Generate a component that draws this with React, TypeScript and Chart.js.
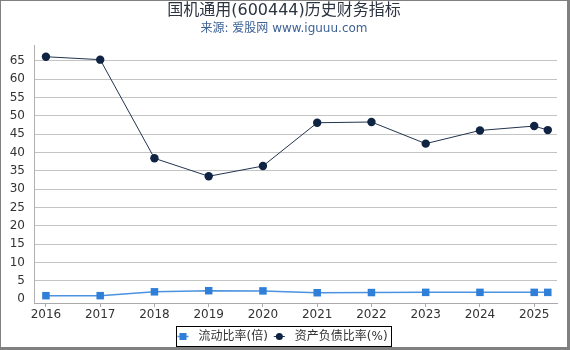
import React, { useEffect, useRef } from 'react';
import { Chart, registerables } from 'chart.js';

Chart.register(...registerables);

const titleText = '国机通用(600444)历史财务指标';
const subtitleText = '来源: 爱股网 www.iguuu.com';
const seriesNames = ['流动比率(倍)', '资产负债比率(%)'];

// x positions (years; last point is the latest quarter)
const periods = [2016, 2017, 2018, 2019, 2020, 2021, 2022, 2023, 2024, 2025, 2025.25];
const currentRatio = [0.95, 0.95, 2.0, 2.3, 2.25, 1.75, 1.8, 1.85, 1.85, 1.85, 1.85];
const debtRatio = [66.1, 65.3, 38.4, 33.5, 36.3, 48.1, 48.3, 42.4, 46.0, 47.2, 46.1];

const xTickValues = [2016, 2017, 2018, 2019, 2020, 2021, 2022, 2023, 2024, 2025];
const yTickValues = [0, 5, 10, 15, 20, 25, 30, 35, 40, 45, 50, 55, 60, 65];

const BLUE = '#2f7ed8';
const BLUE_LINE = '#4b92e0';
const NAVY = '#0f2342';
const NAVY_LINE = '#22344f';
const FONT = '"DejaVu Sans", "Noto Sans CJK SC", sans-serif';

const overlayPlugin = {
  id: 'overlay',
  afterDraw(chart: any) {
    const ctx = chart.ctx as CanvasRenderingContext2D;
    const cx = chart.width / 2;
    ctx.save();
    ctx.textAlign = 'center';
    ctx.textBaseline = 'middle';
    ctx.fillStyle = '#2b3440';
    ctx.font = '16px ' + FONT;
    ctx.fillText(titleText, cx, 10);
    ctx.fillStyle = '#3d6396';
    ctx.font = '12px ' + FONT;
    ctx.fillText(subtitleText, cx, 28);

    // legend
    ctx.font = '12px ' + FONT;
    const w1 = ctx.measureText(seriesNames[0]).width;
    const w2 = ctx.measureText(seriesNames[1]).width;
    const symW = 11;
    const gapSymText = 10;
    const gapItems = 6;
    const padL = 1;
    const padR = 4;
    const total = padL + symW + gapSymText + w1 + gapItems + symW + gapSymText + w2 + padR;
    const left = Math.round(cx - total / 2) + 0.5;
    const top = 325.5;
    const h = 20;
    ctx.strokeStyle = '#000';
    ctx.lineWidth = 1;
    ctx.strokeRect(left, top, Math.round(total), h);
    const my = top + h / 2;
    let x = left + padL;
    // item 1
    ctx.strokeStyle = BLUE_LINE;
    ctx.lineWidth = 1.5;
    ctx.beginPath();
    ctx.moveTo(x, my);
    ctx.lineTo(x + symW, my);
    ctx.stroke();
    ctx.fillStyle = BLUE;
    ctx.fillRect(x + symW / 2 - 3.5, my - 3.5, 7, 7);
    x += symW + gapSymText;
    ctx.fillStyle = '#333';
    ctx.textAlign = 'left';
    ctx.fillText(seriesNames[0], x, my + 0.5);
    x += w1 + gapItems;
    // item 2
    ctx.strokeStyle = NAVY_LINE;
    ctx.lineWidth = 1;
    ctx.beginPath();
    ctx.moveTo(x, my);
    ctx.lineTo(x + symW, my);
    ctx.stroke();
    ctx.fillStyle = NAVY;
    ctx.beginPath();
    ctx.arc(x + symW / 2, my, 3.5, 0, Math.PI * 2);
    ctx.fill();
    x += symW + gapSymText;
    ctx.fillStyle = '#333';
    ctx.fillText(seriesNames[1], x, my + 0.5);
    ctx.restore();
  },
};

export default function App() {
  const canvasRef = useRef<HTMLCanvasElement | null>(null);

  useEffect(() => {
    const canvas = canvasRef.current;
    if (!canvas) return;
    const chart = new Chart(canvas, {
      type: 'line',
      data: {
        datasets: [
          {
            label: seriesNames[0],
            data: periods.map((p, i) => ({ x: p, y: currentRatio[i] })),
            borderColor: BLUE_LINE,
            backgroundColor: BLUE,
            borderWidth: 1.5,
            pointStyle: 'rect',
            pointRadius: 5.3,
            pointBorderWidth: 0,
            pointBackgroundColor: BLUE,
            tension: 0,
          },
          {
            label: seriesNames[1],
            data: periods.map((p, i) => ({ x: p, y: debtRatio[i] })),
            borderColor: NAVY_LINE,
            backgroundColor: NAVY,
            borderWidth: 1,
            pointStyle: 'circle',
            pointRadius: 4.2,
            pointBorderWidth: 0,
            pointBackgroundColor: NAVY,
            tension: 0,
          },
        ],
      },
      options: {
        animation: false,
        responsive: false,
        devicePixelRatio: 1,
        layout: { padding: { left: 0, top: 44, right: 10, bottom: 24 } },
        plugins: {
          legend: { display: false },
          title: { display: false },
          tooltip: { enabled: false },
        },
        scales: {
          x: {
            type: 'linear',
            min: 2015.78,
            max: 2025.42,
            afterBuildTicks: (scale: any) => {
              scale.ticks = xTickValues.map((v) => ({ value: v }));
            },
            afterFit: (scale: any) => {
              scale.height = 20;
            },
            grid: {
              drawOnChartArea: false,
              drawTicks: true,
              tickLength: 4,
              color: '#aaaaaa',
            },
            border: { display: true, color: '#aaaaaa', width: 1 },
            ticks: {
              autoSkip: false,
              maxRotation: 0,
              padding: 1,
              color: '#333333',
              font: { size: 12, family: FONT },
              callback: (v: any) => String(v),
            },
          },
          y: {
            type: 'linear',
            min: -1.05,
            max: 69.3,
            afterBuildTicks: (scale: any) => {
              scale.ticks = yTickValues.map((v) => ({ value: v }));
            },
            afterFit: (scale: any) => {
              scale.width = 33;
            },
            grid: {
              drawTicks: false,
              color: (c: any) => (c.tick && c.tick.value === 0 ? 'rgba(0,0,0,0)' : '#c4c4c4'),
              lineWidth: 1,
            },
            border: { display: true, color: '#b0b0b0', width: 1 },
            ticks: {
              padding: 9,
              color: '#333333',
              font: { size: 12, family: FONT },
              callback: (v: any) => String(v),
            },
          },
        },
      },
      plugins: [overlayPlugin],
    } as any);
    return () => chart.destroy();
  }, []);

  return (
    <div
      style={{
        position: 'fixed',
        left: 0,
        top: 0,
        width: 570,
        height: 350,
        boxSizing: 'border-box',
        borderStyle: 'solid',
        borderColor: '#808080',
        borderWidth: '1px 3px 3px 1px',
        background: '#ffffff',
      }}
    >
      <canvas ref={canvasRef} width={566} height={346} style={{ display: 'block', width: 566, height: 346 }} />
    </div>
  );
}
